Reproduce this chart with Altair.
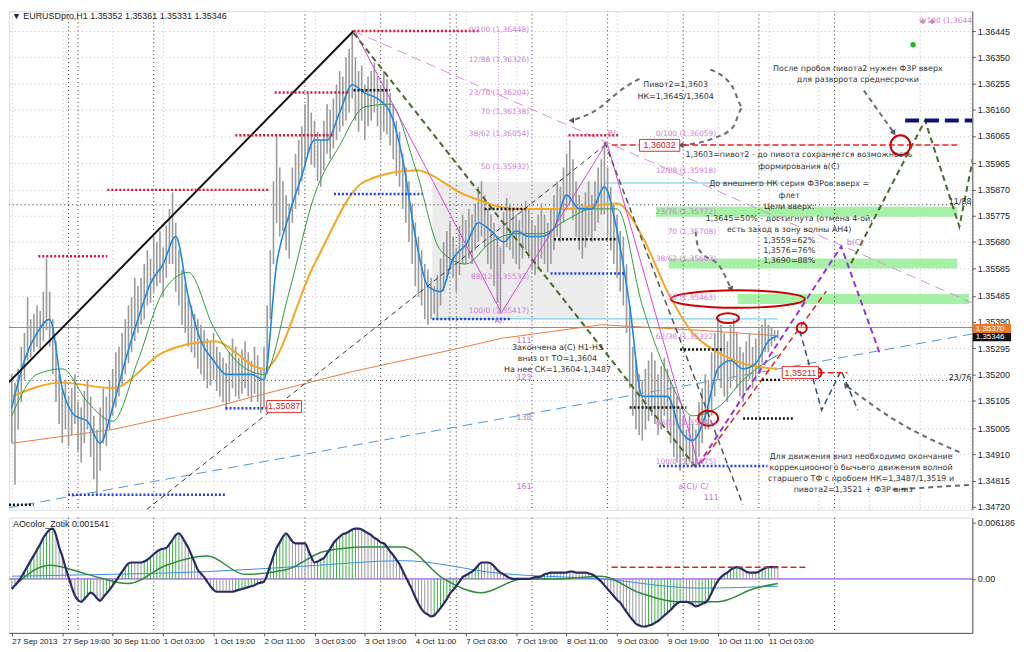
import altair as alt
import pandas as pd

FONT = "DejaVu Sans"
TFONT = "Liberation Sans"

TIME_LABELS = ["27 Sep 2013", "27 Sep 19:00", "30 Sep 11:00", "1 Oct 03:00", "1 Oct 19:00",
               "2 Oct 11:00", "3 Oct 03:00", "3 Oct 19:00", "4 Oct 11:00", "7 Oct 03:00",
               "7 Oct 19:00", "8 Oct 11:00", "9 Oct 03:00", "9 Oct 19:00", "10 Oct 11:00", "11 Oct 03:00"]
PRICE_TICKS = [1.36445, 1.36350, 1.36255, 1.36160, 1.36065, 1.35965, 1.35870, 1.35775, 1.35680,
               1.35585, 1.35485, 1.35390, 1.35295, 1.35200, 1.35105, 1.35005, 1.34910, 1.34815, 1.34720]
AO_TICKS = [0.006186, 0.0]

# hourly bars, EURUSD H1 (bar 0 = 27 Sep 03:00)
HIGHS = [1.3520, 1.3517, 1.3522, 1.3530, 1.3535, 1.3548, 1.3540, 1.3542, 1.3545, 1.3543,
         1.3550, 1.3562, 1.3550, 1.3540, 1.3532, 1.3520, 1.3515, 1.3518, 1.3512, 1.3515,
         1.3520, 1.3510, 1.3508, 1.3514, 1.3518, 1.3512, 1.3505, 1.3500, 1.3508, 1.3515,
         1.3512, 1.3518, 1.3522, 1.3528, 1.3530, 1.3535, 1.3540, 1.3545, 1.3548, 1.3555,
         1.3552, 1.3555, 1.3560, 1.3565, 1.3562, 1.3570, 1.3568, 1.3572, 1.3566, 1.3574,
         1.3580, 1.3586, 1.3575, 1.3565, 1.3558, 1.3553, 1.3548, 1.3545, 1.3542, 1.3540,
         1.3538, 1.3536, 1.3533, 1.3532, 1.3535, 1.3530, 1.3528, 1.3526, 1.3524, 1.3528,
         1.3533, 1.3530, 1.3526, 1.3529, 1.3532, 1.3528, 1.3525, 1.3530, 1.3527, 1.3522,
         1.3530, 1.3545, 1.3565, 1.3590, 1.3607, 1.3595, 1.3590, 1.3585, 1.3582, 1.3595,
         1.3600, 1.3605, 1.3610, 1.3618, 1.3622, 1.3615, 1.3612, 1.3608, 1.3605, 1.3612,
         1.3618, 1.3616, 1.3620, 1.3625, 1.3630, 1.3628, 1.3635, 1.3638, 1.36448, 1.3635,
         1.3630, 1.3632, 1.3625, 1.3628, 1.3630, 1.3633, 1.3628, 1.3625, 1.3630, 1.3627,
         1.3622, 1.3618, 1.3612, 1.3608, 1.3600, 1.3595, 1.3590, 1.3582, 1.3575, 1.3570,
         1.3565, 1.3560, 1.3558, 1.3555, 1.3552, 1.3556, 1.3562, 1.3568, 1.3572, 1.3575,
         1.3570, 1.3566, 1.3574, 1.3578, 1.3576, 1.3580, 1.3578, 1.3582, 1.3588, 1.3590,
         1.3585, 1.3580, 1.3578, 1.3575, 1.3570, 1.3566, 1.3579, 1.3584, 1.3582, 1.3580,
         1.3578, 1.3576, 1.3580, 1.3583, 1.3580, 1.3576, 1.3574, 1.3578, 1.3582, 1.3578,
         1.3575, 1.3580, 1.3585, 1.3590, 1.3588, 1.3595, 1.3600, 1.3605, 1.3598, 1.3590,
         1.3585, 1.3582, 1.3586, 1.3590, 1.3585, 1.3590, 1.3595, 1.3598, 1.3604, 1.3595,
         1.3588, 1.3582, 1.3578, 1.3572, 1.3570, 1.3560, 1.3545, 1.3530, 1.3525, 1.3520,
         1.3518, 1.3522, 1.3525, 1.3528, 1.3525, 1.3520, 1.3523, 1.3526, 1.3522, 1.3518,
         1.3515, 1.3512, 1.3508, 1.3505, 1.3500, 1.3505, 1.3502, 1.3500, 1.3510, 1.3515,
         1.3520, 1.3518, 1.3528, 1.3535, 1.3540, 1.3538, 1.3535, 1.3532, 1.3538, 1.3540,
         1.3535, 1.3530, 1.3528, 1.3532, 1.3535, 1.3530, 1.3533, 1.3536, 1.3538, 1.3540,
         1.3538, 1.3537, 1.3536, 1.35361]
LOWS = [1.3495, 1.3480, 1.3500, 1.3510, 1.3518, 1.3525, 1.3526, 1.3528, 1.3530, 1.3529,
        1.3532, 1.3536, 1.3530, 1.3520, 1.3510, 1.3502, 1.3495, 1.3500, 1.3494, 1.3498,
        1.3502, 1.3492, 1.3488, 1.3495, 1.3500, 1.3490, 1.3482, 1.3476, 1.3485, 1.3495,
        1.3494, 1.3500, 1.3505, 1.3508, 1.3512, 1.3516, 1.3520, 1.3524, 1.3528, 1.3532,
        1.3535, 1.3538, 1.3540, 1.3545, 1.3546, 1.3550, 1.3552, 1.3553, 1.3548, 1.3555,
        1.3560, 1.3560, 1.3550, 1.3545, 1.3538, 1.3535, 1.3530, 1.3528, 1.3526, 1.3522,
        1.3520, 1.3518, 1.3515, 1.3516, 1.3518, 1.3514, 1.3512, 1.3510, 1.3507, 1.3510,
        1.3515, 1.3512, 1.3511, 1.3513, 1.3515, 1.3512, 1.3510, 1.3513, 1.3510, 1.3506,
        1.3508, 1.3520, 1.3540, 1.3560, 1.3575, 1.3570, 1.3572, 1.3565, 1.3562, 1.3575,
        1.3580, 1.3585, 1.3590, 1.3595, 1.3600, 1.3596, 1.3595, 1.3590, 1.3588, 1.3594,
        1.3600, 1.3598, 1.3602, 1.3605, 1.3608, 1.3610, 1.3612, 1.3615, 1.3620, 1.3612,
        1.3608, 1.3612, 1.3605, 1.3610, 1.3612, 1.3615, 1.3610, 1.3605, 1.3608, 1.3607,
        1.3603, 1.3598, 1.3592, 1.3588, 1.3580, 1.3575, 1.3568, 1.3560, 1.3552, 1.3548,
        1.3545, 1.3540, 1.3538, 1.3540, 1.3542, 1.3540, 1.3545, 1.3550, 1.3554, 1.3558,
        1.3555, 1.3550, 1.3556, 1.3560, 1.3560, 1.3562, 1.3560, 1.3565, 1.3568, 1.3570,
        1.3566, 1.3560, 1.3558, 1.3552, 1.3546, 1.3542, 1.3560, 1.3566, 1.3565, 1.3562,
        1.3560, 1.3558, 1.3562, 1.3565, 1.3562, 1.3558, 1.3556, 1.3558, 1.3562, 1.3560,
        1.3557, 1.3560, 1.3565, 1.3570, 1.3568, 1.3575, 1.3580, 1.3582, 1.3576, 1.3570,
        1.3565, 1.3562, 1.3566, 1.3570, 1.3568, 1.3572, 1.3575, 1.3578, 1.3578, 1.3570,
        1.3565, 1.3560, 1.3555, 1.3550, 1.3545, 1.3535, 1.3515, 1.3505, 1.3500, 1.3498,
        1.3496, 1.3500, 1.3503, 1.3505, 1.3502, 1.3498, 1.3500, 1.3505, 1.3500, 1.3495,
        1.3490, 1.3488, 1.3485, 1.3490, 1.3487, 1.3488, 1.3487, 1.3486, 1.3490, 1.3495,
        1.3500, 1.3500, 1.3505, 1.3512, 1.3518, 1.3515, 1.3512, 1.3510, 1.3515, 1.3518,
        1.3515, 1.3512, 1.3510, 1.3514, 1.3518, 1.3515, 1.3518, 1.3520, 1.3524, 1.3528,
        1.3528, 1.3530, 1.3532, 1.35331]

# moving averages (bar index, price)
MA_FAST_IDX = list(range(0, 244, 4)) + [243]
MA_FAST = [1.3508, 1.3525, 1.3535, 1.3540, 1.3515, 1.3505, 1.3503, 1.3495, 1.3508, 1.3525,
           1.3540, 1.3553, 1.3560, 1.3570, 1.3548, 1.3532, 1.3525, 1.3520, 1.3520, 1.3520,
           1.3518, 1.3560, 1.3578, 1.3592, 1.3605, 1.3605, 1.3615, 1.3625, 1.3622, 1.3620,
           1.3615, 1.3598, 1.3570, 1.3552, 1.3550, 1.3562, 1.3567, 1.3575, 1.3572, 1.3568,
           1.3572, 1.3570, 1.3570, 1.3573, 1.3585, 1.3580, 1.3580, 1.3588, 1.3572, 1.3545,
           1.3512, 1.3512, 1.3512, 1.3500, 1.3496, 1.3505, 1.3522, 1.3525, 1.3522, 1.3524,
           1.3532, 1.3534]
MA_MID_IDX = list(range(0, 244, 8)) + [243]
MA_MID = [1.3505, 1.3520, 1.3522, 1.3510, 1.3503, 1.3525, 1.3550, 1.3557, 1.3537, 1.3524,
          1.3520, 1.3550, 1.3585, 1.3603, 1.3617, 1.3618, 1.3595, 1.3565, 1.3560, 1.3568,
          1.3571, 1.3571, 1.3576, 1.3580, 1.3580, 1.3545, 1.3520, 1.3505, 1.3508, 1.3518,
          1.3525, 1.3527]
MA_SLOW_IDX = [0, 16, 32, 48, 64, 80, 96, 112, 128, 144, 160, 176, 192, 200, 208, 216, 224, 232, 243]
MA_SLOW = [1.3512, 1.3517, 1.3515, 1.3528, 1.3532, 1.3522, 1.3560, 1.3590, 1.3594, 1.3585,
           1.3580, 1.3580, 1.3582, 1.3570, 1.3550, 1.3535, 1.3528, 1.3524, 1.3522]
MA_LONG_IDX = [0, 32, 64, 77, 108, 140, 155, 187, 218, 243]
MA_LONG = [1.3495, 1.3500, 1.3508, 1.3512, 1.3521, 1.3529, 1.3533, 1.3538, 1.3536, 1.3534]

# AO oscillator per bar, in units of 0.001
AO_MILLI = [-1.1, -0.7, -0.3, 0.2, 0.8, 1.4, 2.0, 2.6, 3.2, 3.8,
            4.5, 5.0, 5.4, 5.5, 4.8, 3.5, 2.5, 1.3, 0.2, -0.9,
            -1.8, -2.3, -2.5, -2.2, -1.8, -1.5, -1.7, -2.1, -2.4, -2.0,
            -1.6, -1.2, -0.7, -0.2, 0.3, 0.8, 1.3, 1.7, 1.8, 1.8,
            1.8, 1.8, 1.9, 2.1, 2.4, 2.7, 3.0, 3.2, 3.3, 3.4,
            3.8, 4.3, 4.8, 5.0, 4.6, 4.0, 3.4, 2.6, 1.8, 1.0,
            0.6, 0.2, -0.3, -0.8, -1.2, -1.4, -1.4, -1.4, -1.4, -1.4,
            -1.4, -1.3, -1.2, -1.1, -1.0, -0.9, -0.8, -0.7, -0.5, -0.4,
            -0.3, 0.5, 1.5, 2.5, 3.4, 4.0, 4.6, 5.0, 4.6, 4.1,
            3.9, 3.9, 3.9, 3.9, 3.2, 2.4, 1.8, 1.9, 2.1, 2.3,
            2.8, 3.3, 3.9, 4.3, 4.6, 4.9, 5.0, 5.2, 5.4, 5.5,
            5.5, 5.4, 5.2, 5.0, 4.8, 4.5, 4.3, 4.0, 3.9, 3.5,
            3.0, 2.6, 2.1, 1.6, 0.9, 0.2, -0.5, -1.2, -2.0, -2.7,
            -3.3, -3.7, -3.9, -4.1, -4.0, -3.6, -3.2, -2.7, -2.2, -1.6,
            -1.2, -0.8, -0.3, 0.2, 0.4, 0.6, 0.8, 1.1, 1.5, 1.8,
            1.8, 1.8, 1.7, 1.4, 1.0, 0.7, 0.5, 0.3, 0.1, 0.0,
            0.0, 0.0, 0.0, 0.0, 0.0, 0.1, 0.2, 0.2, 0.3, 0.5,
            0.6, 0.7, 0.7, 0.7, 0.7, 0.7, 0.7, 0.8, 0.8, 0.7,
            0.7, 0.7, 0.7, 0.6, 0.5, 0.3, 0.0, -0.3, -0.7, -1.1,
            -1.5, -1.9, -2.3, -2.6, -3.1, -3.6, -4.1, -4.5, -4.9, -5.1,
            -5.2, -5.2, -5.1, -5.0, -4.8, -4.6, -4.3, -4.0, -3.7, -3.4,
            -3.0, -2.7, -2.5, -2.5, -2.5, -2.6, -2.8, -3.0, -2.9, -2.7,
            -2.6, -2.2, -1.5, -0.8, -0.2, 0.2, 0.5, 0.7, 1.0, 1.2,
            1.3, 1.2, 1.0, 0.8, 0.7, 0.7, 0.7, 0.8, 1.0, 1.2,
            1.3, 1.3, 1.3, 1.3]
AO_GREEN_IDX = [0, 12, 24, 37, 49, 62, 74, 87, 99, 112, 124, 137, 149, 162, 174, 187, 199, 212, 224, 236, 243]
AO_GREEN = [-1.0, 1.5, 0.5, -0.5, 1.5, 2.5, 0.5, 1.0, 3.0, 3.5, 3.5, 0.0, -1.5, 0.0, 0.0, 0.3,
            -1.5, -2.5, -2.5, -1.0, -0.5]
AO_BLUE_IDX = [0, 31, 62, 93, 124, 155, 187, 218, 243]
AO_BLUE = [0.3, 0.5, 0.8, 1.4, 2.0, 0.6, 0.0, -1.0, -0.8]

X_DOMAIN = [-0.9, 304.7]
P_DOMAIN = [1.34709, 1.36517]
AO_DOMAIN = [-0.0059, 0.0067]

XS = alt.Scale(domain=X_DOMAIN, nice=False, zero=False)
YS = alt.Scale(domain=P_DOMAIN, nice=False, zero=False)
AS = alt.Scale(domain=AO_DOMAIN, nice=False, zero=False)

GRID = "#c4c4c4"
X_TOP_AXIS = alt.Axis(values=list(range(0, 305, 16)), labels=False, ticks=False, domain=False,
                      grid=True, gridColor=GRID, gridDash=[1, 3], title=None)
Y_TOP_AXIS = alt.Axis(orient="right", values=PRICE_TICKS, format=".5f", labelFont=TFONT,
                      labelFontSize=9, labelColor="#222", tickSize=3, tickColor="#555",
                      domainColor="#555", grid=True, gridColor=GRID, gridDash=[1, 3],
                      title=None, labelPadding=2, labelOverlap=False)
lab_arr = "[" + ",".join("'" + s + "'" for s in TIME_LABELS) + "]"
X_BOT_AXIS = alt.Axis(values=list(range(0, 241, 16)), labelExpr=lab_arr + "[round(datum.value/16)]",
                      labelAlign="left", labelFont=TFONT, labelFontSize=8, labelColor="#222",
                      tickSize=3, tickColor="#555", domainColor="#555", labelFlush=False,
                      labelOverlap=False, grid=True, gridColor=GRID, gridDash=[1, 3], title=None,
                      labelPadding=2)
Y_BOT_AXIS = alt.Axis(orient="right", values=AO_TICKS,
                      labelExpr="datum.value == 0 ? '0.00' : format(datum.value, '.6f')",
                      labelFont=TFONT, labelFontSize=9, labelColor="#222", tickSize=3,
                      tickColor="#555", domainColor="#555", grid=False, title=None,
                      labelPadding=2, labelOverlap=False)


def X(f="idx"):
    return alt.X(f + ":Q", scale=XS, axis=X_TOP_AXIS)


def Y(f="price"):
    return alt.Y(f + ":Q", scale=YS, axis=Y_TOP_AXIS)


def XB(f="idx"):
    return alt.X(f + ":Q", scale=XS, axis=X_BOT_AXIS)


def YB(f="v"):
    return alt.Y(f + ":Q", scale=AS, axis=Y_BOT_AXIS)


def seg_df(segs):
    rows = []
    for k, pts in enumerate(segs):
        for j, (i, p) in enumerate(pts):
            rows.append({"sid": k, "ord": j, "idx": i, "price": p})
    return pd.DataFrame(rows)


def lines(segs, color, width=1.0, dash=None, opacity=1.0, interp="linear"):
    mk = dict(color=color, strokeWidth=width, clip=True, opacity=opacity, interpolate=interp)
    if dash:
        mk["strokeDash"] = dash
    return alt.Chart(seg_df(segs)).mark_line(**mk).encode(
        x=X(), y=Y(), detail="sid:N", order="ord:Q")


# ---------------- drawn objects (bar index, price) ----------------
black_trend = [[(-0.9, 1.35172), (108.4, 1.36445)]]
black_thin_dash = [[(42.8, 1.34710), (188.1, 1.36031)]]
blue_long_dash = [[(-0.9, 1.34717), (306.9, 1.35351)]]
pink_dash = [[(108.4, 1.36445), (306.9, 1.35448)]]
pink_fib_vertical = [[(154.4, 1.36448), (154.4, 1.35417)]]
olive_dash = [[(108.4, 1.36438), (216.9, 1.34865)],
              [(266.25, 1.35603), (289.7, 1.36121), (300.6, 1.35736), (311.6, 1.36366)]]
magenta_wave = [[(109.1, 1.36438), (155.3, 1.35423), (188.75, 1.36042), (217.8, 1.34872)]]
purple_dash = [[(217.8, 1.34872), (263.1, 1.35664), (275.6, 1.35268)]]
red_slant = [[(218.75, 1.34879), (258.4, 1.35502)]]
navy_dash = [[(283.4, 1.36121), (307, 1.36121)]]
red_pivot = [[(190.3, 1.36032), (300.6, 1.36032)], [(256.0, 1.35206), (265.0, 1.35206)]]
slate_dash = [[(250.0, 1.35358), (256.9, 1.35070), (263.1, 1.35214), (268.4, 1.35070)]]
gray_dash = [[(188.1, 1.36042), (231.9, 1.34728)]]
callouts = [[(199.1, 1.36272), (194.4, 1.36240), (190.3, 1.36204), (186.6, 1.36168), (177.8, 1.36121)],
            [(221.6, 1.36305), (228.75, 1.36240), (231.9, 1.36168), (228.75, 1.36096),
             (221.9, 1.36053), (212.5, 1.36031)],
            [(270.3, 1.36229), (279.7, 1.36078)],
            [(216.9, 1.35718), (217.8, 1.35656), (225.0, 1.35584), (228.1, 1.35512)],
            [(300.6, 1.34918), (280.3, 1.35033), (264.7, 1.35159)],
            [(279.4, 1.34782), (305.0, 1.34800)]]
arrow_tips = pd.DataFrame({"idx": [177.8, 212.5, 279.7, 228.1, 264.7],
                           "price": [1.36121, 1.36031, 1.36078, 1.35512, 1.35159],
                           "ang": [-90, -90, 150, 160, -40]})
full_dotted = [[(-1, 1.35815), (306, 1.35815)], [(-1, 1.35178), (306, 1.35178)]]
ask_line = [[(-1, 1.35370), (306, 1.35370)]]
cyan_lines = [[(133.4, 1.35401), (243.0, 1.35401)], [(188.1, 1.35894), (244.4, 1.35894)]]
crimson_dots = [[(8.4, 1.35628), (30.3, 1.35628)], [(30.3, 1.35869), (81.9, 1.35869)],
                [(70.9, 1.36067), (102.2, 1.36067)], [(83.4, 1.36222), (106.9, 1.36222)],
                [(108.4, 1.36445), (148.1, 1.36445)], [(176.6, 1.36067), (192.8, 1.36067)]]
blue_dots = [[(17.8, 1.34763), (67.8, 1.34763)], [(67.8, 1.35077), (81.9, 1.35077)],
             [(102.2, 1.35854), (130.3, 1.35854)], [(133.4, 1.35401), (158.4, 1.35401)],
             [(170.9, 1.35566), (194.4, 1.35566)], [(205.3, 1.34868), (239.7, 1.34868)]]
black_dots = [[(-0.9, 1.34727), (6.9, 1.34727)], [(108.4, 1.36230), (120.0, 1.36230)],
              [(150.0, 1.35800), (163.0, 1.35800)], [(172.0, 1.35690), (192.0, 1.35690)],
              [(196.0, 1.35080), (214.0, 1.35080)], [(212.0, 1.35290), (226.0, 1.35290)],
              [(232.0, 1.35040), (248.0, 1.35040)], [(238.0, 1.35180), (244.0, 1.35180)]]
separators = [18, 21, 45, 93, 117, 139, 141, 165, 189, 213, 237, 261]
sep_segs = [[(s, 1.3460), (s, 1.3660)] for s in separators]

bands = pd.DataFrame({"x1": [204.4, 208.4, 230.3], "x2": [300.0, 300.0, 303.7],
                      "lo": [1.35772, 1.35584, 1.35455], "hi": [1.35808, 1.35620, 1.35491]})
gray_box = pd.DataFrame({"x1": [133.4], "x2": [188.1], "lo": [1.35401], "hi": [1.35898]})

text_center_lines = [
    ("Пивот2=1,3603", 210.6, 1.36251), ("НК=1,3645/1,3604", 210.6, 1.36207),
    ("После пробоя пивота2 нужен ФЗР вверх", 268.4, 1.36308), ("для разворота среднесрочки", 268.4, 1.36269),
    ("1,3603=пивот2 - до пивота сохраняется возможность", 249.7, 1.35995),
    ("формирования в(С)", 249.7, 1.35952),
    ("До внешнего НК серия ФЗРов вверх =", 246.6, 1.35890), ("флет", 246.6, 1.35847),
    ("Цели вверх:", 246.6, 1.35808), ("1,3645=50% - достигнута (отмена 4-ой,", 246.6, 1.35764),
    ("есть заход в зону волны АН4)", 246.6, 1.35725), ("1,3559=62%", 246.6, 1.35682),
    ("1,3576=76%", 246.6, 1.35646), ("1,3690=88%", 246.6, 1.35610),
    ("Закончена а(С) Н1-Н3", 173.1, 1.35296), ("вниз от ТО=1,3604", 173.1, 1.35257),
    ("На нее СК=1,3604-1,3487", 173.1, 1.35217),
    ("Для движения вниз необходимо окончание", 269.4, 1.34900),
    ("коррекциооного бычьего движения волной", 269.4, 1.34861),
    ("старшего ТФ с пробоем НК=1,3487/1,3519 и", 269.4, 1.34821),
    ("пивота2=1,3521 + ФЗР вниз", 266.9, 1.34781),
]
tdf = pd.DataFrame(text_center_lines, columns=["t", "idx", "price"])

fib_left = [("0/100 (1,36448)", 1.36449), ("12/88 (1,36326)", 1.36341), ("23/76 (1,36204)", 1.36222),
            ("70 (1,36138)", 1.36153), ("38/62 (1,36054)", 1.36071), ("50 (1,35932)", 1.35952),
            ("88/12(1,35533)", 1.35552), ("100/0 (1,35417)", 1.35430)]
fib_right = [("0/100 (1,36059)", 1.36071), ("12/88 (1,35918)", 1.35937), ("23/76 (1,35772)", 1.35790),
             ("70 (1,35708)", 1.35718), ("38/62 (1,35603)", 1.35617), ("50 (1,35463)", 1.35477),
             ("62/38 (1,35322)", 1.35336), ("88/12 (1,35041)", 1.35023), ("100/0 (1,34875)", 1.34882)]
fib_df = pd.DataFrame([(t, 164.1, p) for t, p in fib_left] + [(t, 223.4, p) for t, p in fib_right]
                      + [("0/100 (1,3644", 304.6, 1.36480)],
                      columns=["t", "idx", "price"])
wave_labels = [("B/", 190.3, 1.36071), ("A/", 154.4, 1.35394), ("a(C)/  C/", 216.2, 1.34793),
               ("111", 221.9, 1.34753), ("b(C)", 267.5, 1.35675), ("111", 162.5, 1.35322),
               ("123", 162.5, 1.35185), ("138", 162.5, 1.35041), ("161", 162.5, 1.34793)]
wave_df = pd.DataFrame(wave_labels, columns=["t", "idx", "price"])
right_marks = pd.DataFrame([("11/88", 304.5, 1.35826), ("23/76", 304.5, 1.35188)],
                           columns=["t", "idx", "price"])
markers = pd.DataFrame({"idx": [285.9, 289.0, 292.0], "price": [1.36395, 1.36480, 1.36480],
                        "c": ["#22bb22", "#a0a0a0", "#a0a0a0"], "s": ["circle", "diamond", "diamond"]})

red_boxes = pd.DataFrame({"t": ["1,36032", "1,35211", "1,35087"],
                          "x1": [199.1, 244.4, 80.9], "x2": [211.9, 255.9, 91.9],
                          "lo": [1.36009, 1.35185, 1.35062], "hi": [1.36052, 1.35228, 1.35105]})
red_boxes["idx"] = (red_boxes.x1 + red_boxes.x2) / 2
red_boxes["price"] = (red_boxes.lo + red_boxes.hi) / 2
axis_boxes = pd.DataFrame({"t": ["1.35370", "1.35346"], "x1": [304.9, 304.9], "x2": [317.0, 317.0],
                           "lo": [1.35350, 1.35320], "hi": [1.35383, 1.35350],
                           "fill": ["#f07828", "#111111"]})
axis_boxes["idx"] = 305.8
axis_boxes["price"] = [1.35365, 1.35336]

ellipses = [  # idx, price, width px, aspect
    (230.3, 1.35473, 135, 0.13), (281.9, 1.36031, 20, 1.0), (220.9, 1.35041, 20, 0.75),
    (227.2, 1.35404, 22, 0.45), (250.6, 1.35368, 10, 1.0), (255.3, 1.35206, 10, 1.0)]

bars = pd.DataFrame({"idx": list(range(len(HIGHS))), "hi": HIGHS, "lo": LOWS})
ma_fast = pd.DataFrame({"idx": MA_FAST_IDX, "price": MA_FAST})
ma_mid = pd.DataFrame({"idx": MA_MID_IDX, "price": MA_MID})
ma_slow = pd.DataFrame({"idx": MA_SLOW_IDX, "price": MA_SLOW})
ma_long = pd.DataFrame({"idx": MA_LONG_IDX, "price": MA_LONG})

layers = []
layers.append(alt.Chart(gray_box).mark_rect(color="#ececec").encode(
    x=X("x1"), x2="x2:Q", y=Y("lo"), y2="hi:Q"))
layers.append(alt.Chart(bands).mark_rect(color="#98ee98", opacity=0.85).encode(
    x=X("x1"), x2="x2:Q", y=Y("lo"), y2="hi:Q"))
layers.append(lines(sep_segs, "#333", 1, [1, 3]))
layers.append(lines(full_dotted, "#222", 1, [1, 3]))
layers.append(lines(pink_fib_vertical, "#d890d8", 1, [1, 2]))
layers.append(lines(ask_line, "#e07030", 1))
layers.append(lines(cyan_lines, "#5fc8e8", 1))
layers.append(lines(blue_long_dash, "#4a9ad8", 1, [10, 6]))
layers.append(lines(pink_dash, "#d890d8", 1, [10, 6]))
layers.append(alt.Chart(ma_long).mark_line(color="#ee7a3a", strokeWidth=1, clip=True).encode(x=X(), y=Y()))
layers.append(alt.Chart(bars).mark_rule(color="#9a9a9a", strokeWidth=1.6, clip=True).encode(
    x=X(), y=Y("lo"), y2="hi:Q"))
layers.append(alt.Chart(ma_slow).mark_line(color="#f5a623", strokeWidth=2, clip=True,
                                            interpolate="monotone").encode(x=X(), y=Y()))
layers.append(alt.Chart(ma_mid).mark_line(color="#2e9a3a", strokeWidth=1, clip=True,
                                           interpolate="monotone").encode(x=X(), y=Y()))
layers.append(alt.Chart(ma_fast).mark_line(color="#1e88e5", strokeWidth=1.6, clip=True,
                                            interpolate="monotone").encode(x=X(), y=Y()))
layers.append(lines(black_trend, "#111", 2))
layers.append(lines(black_thin_dash, "#333", 1, [5, 4]))
layers.append(lines(magenta_wave, "#e040e0", 1))
layers.append(lines(olive_dash, "#4a6a2a", 2, [6, 4]))
layers.append(lines(gray_dash, "#555", 1.5, [6, 4]))
layers.append(lines(callouts, "#6a6a7a", 2, [5, 4], interp="monotone"))
layers.append(alt.Chart(arrow_tips).mark_point(shape="triangle", size=40, filled=True, color="#5a5a6a",
                                                opacity=1).encode(x=X(), y=Y(), angle=alt.Angle("ang:Q", scale=None)))
layers.append(lines(purple_dash, "#9b30e0", 2, [6, 4]))
layers.append(lines(red_slant, "#e02020", 1.5, [6, 4]))
layers.append(lines(slate_dash, "#2f4f6f", 1.5, [6, 4]))
layers.append(lines(red_pivot, "#ee2020", 1.5, [6, 3]))
layers.append(lines(navy_dash, "#10107a", 4, [14, 6]))
layers.append(lines(crimson_dots, "#e0103c", 2.5, [2, 2]))
layers.append(lines(blue_dots, "#2040e0", 2.5, [2, 2]))
layers.append(lines(black_dots, "#111", 2.5, [2, 2]))
layers.append(alt.Chart(markers).mark_point(filled=True, size=30, opacity=1).encode(
    x=X(), y=Y(), color=alt.Color("c:N", scale=None), shape=alt.Shape("s:N", scale=None)))

for (i, p, w, a) in ellipses:
    path = "M -1 0 A 1 %g 0 1 0 1 0 A 1 %g 0 1 0 -1 0 Z" % (a, a)
    layers.append(alt.Chart(pd.DataFrame({"idx": [i], "price": [p]})).mark_point(
        shape=path, size=w * w, filled=False, color="#cc0000", strokeWidth=2, opacity=1).encode(
        x=X(), y=Y()))

layers.append(alt.Chart(red_boxes).mark_rect(fill="white", stroke="#e03030", strokeWidth=1).encode(
    x=X("x1"), x2="x2:Q", y=Y("lo"), y2="hi:Q"))
layers.append(alt.Chart(red_boxes).mark_text(font=TFONT, fontSize=9, color="#d02020").encode(
    x=X(), y=Y(), text="t:N"))
layers.append(alt.Chart(axis_boxes).mark_rect(clip=False).encode(
    x=X("x1"), x2="x2:Q", y=Y("lo"), y2="hi:Q", fill=alt.Fill("fill:N", scale=None)))
layers.append(alt.Chart(axis_boxes).mark_text(font=TFONT, fontSize=8, color="white", align="left").encode(
    x=X(), y=Y(), text="t:N"))
layers.append(alt.Chart(tdf).mark_text(font=FONT, fontSize=8, color="#333").encode(
    x=X(), y=Y(), text="t:N"))
layers.append(alt.Chart(fib_df).mark_text(font=FONT, fontSize=7.5, color="#d080d8", align="right").encode(
    x=X(), y=Y(), text="t:N"))
layers.append(alt.Chart(wave_df).mark_text(font=FONT, fontSize=8, color="#c070d0").encode(
    x=X(), y=Y(), text="t:N"))
layers.append(alt.Chart(right_marks).mark_text(font=FONT, fontSize=8, color="#222", align="right").encode(
    x=X(), y=Y(), text="t:N"))
layers.append(alt.Chart(pd.DataFrame({"t": ["▼ EURUSDpro,H1  1.35352 1.35361 1.35331 1.35346"]}))
              .mark_text(font=TFONT, fontSize=9, color="#222", align="left", baseline="top")
              .encode(x=alt.value(3), y=alt.value(1), text="t:N"))

top = alt.layer(*layers).properties(width=970, height=502)

# ---------------- AO sub-window ----------------
ao = pd.DataFrame({"idx": list(range(len(AO_MILLI))), "v": [a / 1000 for a in AO_MILLI]})
ao["col"] = ["#3cb043" if (k > 0 and AO_MILLI[k] > AO_MILLI[k - 1]) else "#9a9a9a"
             for k in range(len(AO_MILLI))]
ao["zero"] = 0.0
ao_green = pd.DataFrame({"idx": AO_GREEN_IDX, "v": [a / 1000 for a in AO_GREEN]})
ao_blue = pd.DataFrame({"idx": AO_BLUE_IDX, "v": [a / 1000 for a in AO_BLUE]})
zero_df = pd.DataFrame({"idx": [-1, 306], "v": [0.0, 0.0]})
ao_red = pd.DataFrame({"idx": [190.3, 252.2], "v": [0.00128, 0.00128]})
sep_df = pd.DataFrame({"idx": separators})

bot_layers = [
    alt.Chart(sep_df).mark_rule(color="#333", strokeDash=[1, 3], strokeWidth=1).encode(x=XB()),
    alt.Chart(zero_df).mark_line(color="#8a2be2", strokeWidth=1, clip=True).encode(x=XB(), y=YB()),
    alt.Chart(ao).mark_rule(strokeWidth=1, clip=True).encode(
        x=XB(), y=YB(), y2="zero:Q", color=alt.Color("col:N", scale=None)),
    alt.Chart(ao_blue).mark_line(color="#3a8ee6", strokeWidth=1, clip=True, interpolate="monotone").encode(
        x=XB(), y=YB()),
    alt.Chart(ao_green).mark_line(color="#2e8b3a", strokeWidth=1.5, clip=True, interpolate="monotone").encode(
        x=XB(), y=YB()),
    alt.Chart(ao).mark_line(color="#2a2a6a", strokeWidth=2.2, clip=True, interpolate="monotone").encode(
        x=XB(), y=YB()),
    alt.Chart(ao_red).mark_line(color="#e02020", strokeWidth=1.5, strokeDash=[6, 3]).encode(x=XB(), y=YB()),
    alt.Chart(pd.DataFrame({"t": ["AOcolor_Zotik 0.001541"]}))
    .mark_text(font=TFONT, fontSize=9, color="#222", align="left", baseline="top")
    .encode(x=alt.value(4), y=alt.value(2), text="t:N"),
]
bottom = alt.layer(*bot_layers).properties(width=970, height=116)

chart = alt.vconcat(top, bottom, spacing=4).properties(
    padding={"left": 0, "top": 0, "right": 0, "bottom": 0}
).configure_view(stroke="#888", strokeWidth=1).configure(background="white")

chart.save("out.html", embed_options={"renderer": "svg", "actions": False})
